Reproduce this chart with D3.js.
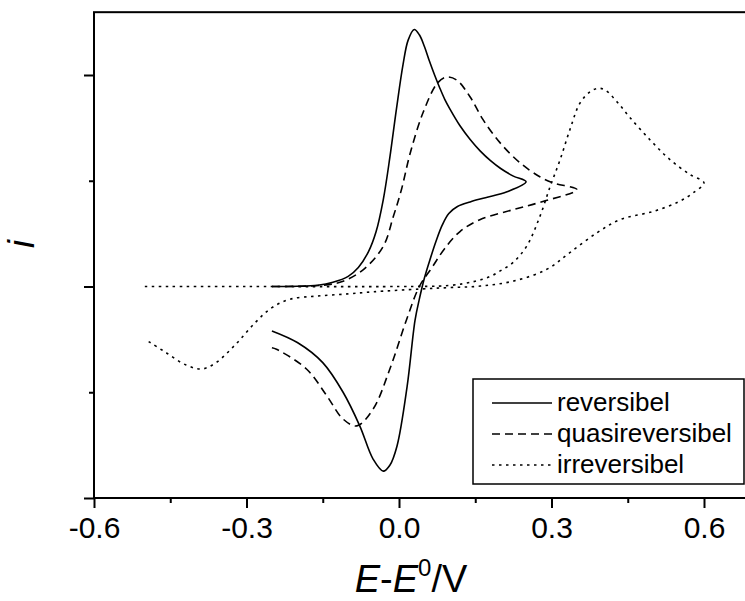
<!DOCTYPE html>
<html><head><meta charset="utf-8">
<script src="https://cdn.jsdelivr.net/npm/d3@7"></script>
<style>body{margin:0;background:#fff}svg{display:block}text{font-family:"Liberation Sans",Arial,sans-serif;fill:#000}</style>
</head><body><svg id="c" width="745" height="601"></svg>
<script>
// Series: [E (V), i (arb.)]
const reversibel = [
[-0.25,0],[-0.20,0.001],[-0.16,0.006],[-0.13,0.02],[-0.10,0.048],[-0.08,0.09],[-0.06,0.165],[-0.045,0.26],[-0.031,0.41],[-0.018,0.61],[-0.005,0.84],[0.008,1.05],[0.018,1.165],[0.030,1.215],[0.04,1.19],[0.05,1.135],[0.06,1.065],[0.07,1.0],[0.08,0.94],[0.09,0.885],[0.10,0.84],[0.12,0.76],[0.14,0.695],[0.16,0.64],[0.18,0.595],[0.20,0.558],[0.225,0.522],[0.25,0.495],
[0.2125,0.448],[0.17,0.42],[0.14,0.40],[0.115,0.378],[0.098,0.345],[0.085,0.29],[0.073,0.215],[0.062,0.135],[0.05,0.04],[0.04,-0.06],[0.0315,-0.16],[0.016,-0.472],[-0.004,-0.755],[-0.018,-0.845],[-0.031,-0.873],[-0.051,-0.816],[-0.077,-0.66],[-0.11,-0.50],[-0.15,-0.36],[-0.20,-0.265],[-0.25,-0.21]
];
const quasireversibel = [
[-0.25,0],[-0.15,0.006],[-0.11,0.025],[-0.07,0.08],[-0.031,0.19],[-0.011,0.332],[0.005,0.46],[0.022,0.63],[0.047,0.82],[0.075,0.96],[0.0925,0.99],[0.1135,0.976],[0.14,0.896],[0.165,0.79],[0.199,0.679],[0.238,0.585],[0.277,0.519],[0.303,0.49],[0.35,0.458],
[0.283,0.402],[0.224,0.363],[0.159,0.316],[0.12,0.26],[0.09,0.18],[0.065,0.09],[0.04,0.0],[0.015,-0.156],[-0.018,-0.39],[-0.051,-0.58],[-0.083,-0.659],[-0.11,-0.627],[-0.142,-0.517],[-0.182,-0.39],[-0.241,-0.297],[-0.25,-0.29]
];
const irreversibel = [
[-0.5,0],[-0.3,0],[0.0,0.0],[0.1,0.005],[0.15,0.025],[0.179,0.047],[0.2,0.075],[0.224,0.113],[0.251,0.19],[0.277,0.33],[0.297,0.47],[0.317,0.6],[0.336,0.74],[0.356,0.867],[0.376,0.921],[0.392,0.937],[0.405,0.93],[0.43,0.87],[0.455,0.797],[0.494,0.693],[0.533,0.6],[0.572,0.53],[0.6,0.49],
[0.58,0.445],[0.55,0.40],[0.50,0.355],[0.435,0.316],[0.39,0.255],[0.336,0.16],[0.29,0.08],[0.224,0.025],[0.16,0.002],[0.10,-0.005],[0.04,-0.012],[-0.05,-0.025],[-0.10,-0.035],[-0.16,-0.045],[-0.214,-0.06],[-0.25,-0.1],[-0.283,-0.171],[-0.32,-0.27],[-0.36,-0.36],[-0.388,-0.39],[-0.42,-0.37],[-0.46,-0.31],[-0.49,-0.264],[-0.5,-0.25]
];
const seriesNames = ["reversibel","quasireversibel","irreversibel"];
const xMajor = [-0.6,-0.3,0.0,0.3,0.6];
const xMinor = [-0.45,-0.15,0.15,0.45];
const yMajor = [-1,0,1];
const yMinor = [-0.5,0.5];

const svg = d3.select("#c");
const x = d3.scaleLinear().domain([-0.6,0.6]).range([94,704]);
const y = d3.scaleLinear().domain([-1,1]).range([498,75]);
const xMax = 0.72, yMax = 1.297;

// frame
svg.append("rect").attr("x",x(-0.6)).attr("y",y(yMax)).attr("width",x(xMax)-x(-0.6)).attr("height",y(-1)-y(yMax))
  .attr("fill","none").attr("stroke","#000").attr("stroke-width",2);

const fmt = d => d===0 ? "0.0" : d3.format(".1f")(d).replace("−","-");
const gx = svg.append("g").attr("transform",`translate(0,${y(-1)})`)
  .call(d3.axisBottom(x).tickValues(xMajor).tickSize(10).tickPadding(9).tickFormat(fmt));
gx.select(".domain").remove();
gx.selectAll("line").attr("stroke-width",2);
gx.selectAll("text").style("font-size","30px").attr("font-family",null);
const gxm = svg.append("g").attr("transform",`translate(0,${y(-1)})`)
  .call(d3.axisBottom(x).tickValues(xMinor).tickSize(5).tickFormat(""));
gxm.select(".domain").remove(); gxm.selectAll("line").attr("stroke-width",2);

const gy = svg.append("g").attr("transform",`translate(${x(-0.6)},0)`)
  .call(d3.axisLeft(y).tickValues(yMajor).tickSize(10).tickFormat(""));
gy.select(".domain").remove(); gy.selectAll("line").attr("stroke-width",2);
const gym = svg.append("g").attr("transform",`translate(${x(-0.6)},0)`)
  .call(d3.axisLeft(y).tickValues(yMinor).tickSize(5).tickFormat(""));
gym.select(".domain").remove(); gym.selectAll("line").attr("stroke-width",2);

// curves
const line = d3.line().x(d=>x(d[0])).y(d=>y(d[1])).curve(d3.curveCatmullRom.alpha(0.5));
const styles = [null,"8,5","2.5,4.5"];
[reversibel,quasireversibel,irreversibel].forEach((s,k)=>{
  svg.append("path").datum(s).attr("d",line).attr("fill","none").attr("stroke","#000")
    .attr("stroke-width",1.6).attr("stroke-dasharray",styles[k]);
});

// axis titles
const t = svg.append("text").attr("x",411).attr("y",592).attr("text-anchor","middle").style("font-size","38px");
t.append("tspan").attr("font-style","italic").text("E");
t.append("tspan").text("-");
t.append("tspan").attr("font-style","italic").text("E");
t.append("tspan").attr("dy",-16).style("font-size","24px").text("0");
t.append("tspan").attr("dy",16).text("/V");
svg.append("text").attr("transform","translate(34,244) rotate(-90)").attr("text-anchor","middle")
  .attr("font-style","italic").style("font-size","36px").text("i");

// legend
const lg = svg.append("g");
lg.append("rect").attr("x",473).attr("y",379).attr("width",271).attr("height",105).attr("fill","#fff").attr("stroke","#000").attr("stroke-width",1.5);
seriesNames.forEach((n,k)=>{
  const by = 411 + k*31;
  lg.append("line").attr("x1",492).attr("x2",552).attr("y1",by-8).attr("y2",by-8).attr("stroke","#000").attr("stroke-width",1.6).attr("stroke-dasharray",styles[k]);
  lg.append("text").attr("x",557).attr("y",by).style("font-size","26px").text(n);
});
</script></body></html>
